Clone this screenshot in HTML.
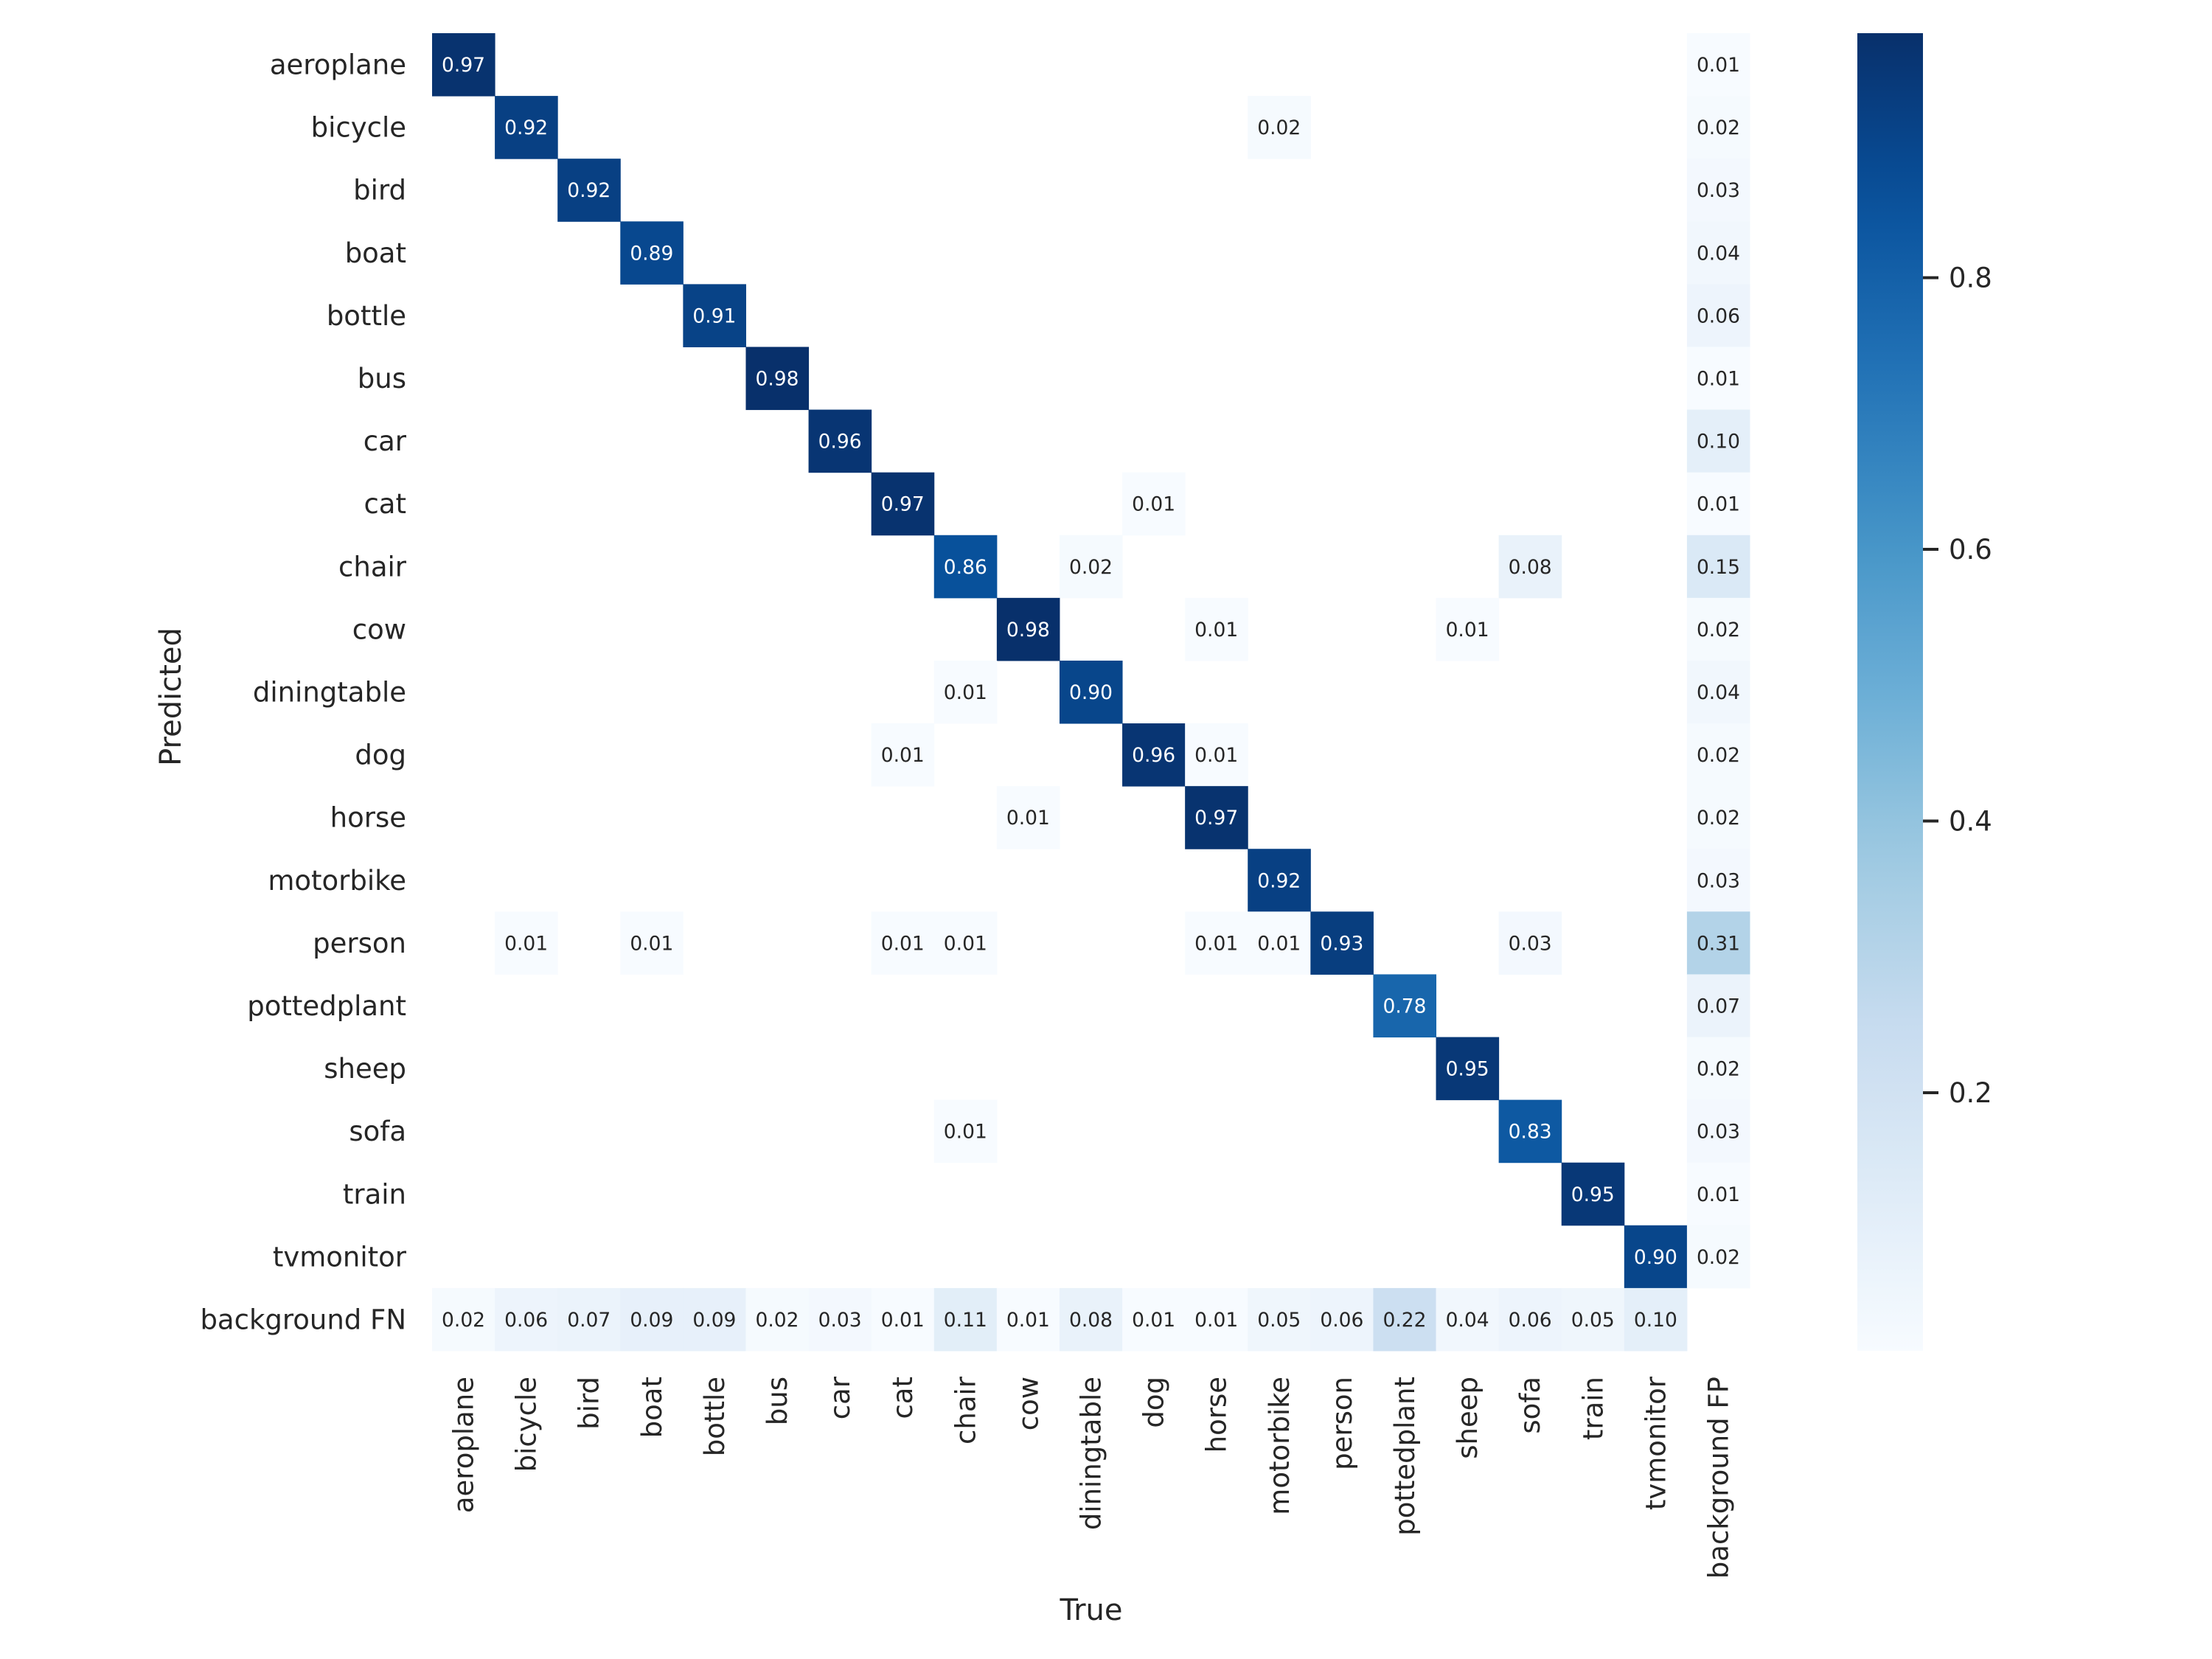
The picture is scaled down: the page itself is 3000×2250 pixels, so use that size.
<!DOCTYPE html>
<html><head><meta charset="utf-8">
<style>
html,body{margin:0;padding:0;background:#fff;}
svg{display:block;font-family:"DejaVu Sans","Liberation Sans",sans-serif;}
</style></head>
<body>
<svg id="chart" xmlns="http://www.w3.org/2000/svg" width="3000" height="2250" viewBox="0 0 3000 2250">
<rect width="3000" height="2250" fill="#fff"/>
<g id="cells"></g>
<g id="annots"></g>
<g id="ylabels"></g>
<g id="xlabels"></g>
<defs><linearGradient id="cbgrad" x1="0" y1="1" x2="0" y2="0"></linearGradient></defs>
<rect id="cbar" x="2519" y="45" width="89" height="1787" fill="url(#cbgrad)"/>
<g id="cbticks"></g>
<text x="1480" y="2197" font-size="40" fill="#262626" text-anchor="middle">True</text>
<text transform="translate(245,945) rotate(-90)" font-size="40" fill="#262626" text-anchor="middle">Predicted</text>
</svg>
<script>
const categories = ["aeroplane","bicycle","bird","boat","bottle","bus","car","cat","chair","cow","diningtable","dog","horse","motorbike","person","pottedplant","sheep","sofa","train","tvmonitor"];
const diagValues = [0.97,0.92,0.92,0.89,0.91,0.98,0.96,0.97,0.86,0.98,0.90,0.96,0.97,0.92,0.93,0.78,0.95,0.83,0.95,0.90];
const backgroundFP = [0.01,0.02,0.03,0.04,0.06,0.01,0.10,0.01,0.15,0.02,0.04,0.02,0.02,0.03,0.31,0.07,0.02,0.03,0.01,0.02];
const backgroundFN = [0.02,0.06,0.07,0.09,0.09,0.02,0.03,0.01,0.11,0.01,0.08,0.01,0.01,0.05,0.06,0.22,0.04,0.06,0.05,0.10];
const offDiagRows = [1,7,8,8,9,9,10,11,11,12,14,14,14,14,14,14,14,17];
const offDiagCols = [13,11,10,17,12,16,8,7,12,9,1,3,7,8,12,13,17,8];
const offDiagVals = [0.02,0.01,0.02,0.08,0.01,0.01,0.01,0.01,0.01,0.01,0.01,0.01,0.01,0.01,0.01,0.01,0.03,0.01];
const colorbarTicks = [0.2,0.4,0.6,0.8];

const NS = "http://www.w3.org/2000/svg";
const X0 = 586, Y0 = 45, GRID = 1787;
const labels = categories.concat(["background"]);
const xLabels = categories.concat(["background FP"]);
const yLabels = categories.concat(["background FN"]);
const N = labels.length;
const cell = GRID / N;
const vmin = 0.01, vmax = 0.98;
const stops = ["#f7fbff","#deebf7","#c6dbef","#9ecae1","#6baed6","#4292c6","#2171b5","#08519c","#08306b"];
function hex(h){return [1,3,5].map(i=>parseInt(h.substr(i,2),16));}
function blues(v){
  let t = Math.max(0, Math.min(1, (v - vmin) / (vmax - vmin)));
  const p = t * (stops.length - 1), i = Math.min(Math.floor(p), stops.length - 2), f = p - i;
  const a = hex(stops[i]), b = hex(stops[i+1]);
  return "rgb(" + a.map((c,k)=>Math.round(c + (b[k]-c)*f)).join(",") + ")";
}
function xPos(c){return X0 + c * cell;}
function yPos(r){return Y0 + r * cell;}
function cbY(v){return Y0 + GRID * (1 - (v - vmin) / (vmax - vmin));}

const M = [];
for (let r = 0; r < N; r++){ M.push(new Array(N).fill(null)); }
diagValues.forEach((v,i)=>{ M[i][i] = v; });
backgroundFP.forEach((v,i)=>{ M[i][N-1] = v; });
backgroundFN.forEach((v,i)=>{ M[N-1][i] = v; });
offDiagVals.forEach((v,k)=>{ M[offDiagRows[k]][offDiagCols[k]] = v; });

const cellsG = document.getElementById("cells");
const annG = document.getElementById("annots");
for (let r = 0; r < N; r++){
  for (let c = 0; c < N; c++){
    const v = M[r][c];
    if (v === null) continue;
    const rect = document.createElementNS(NS, "rect");
    rect.setAttribute("x", xPos(c)); rect.setAttribute("y", yPos(r));
    rect.setAttribute("width", cell + 0.5); rect.setAttribute("height", cell + 0.5);
    rect.setAttribute("fill", blues(v));
    
    
    cellsG.appendChild(rect);
    const t = document.createElementNS(NS, "text");
    t.setAttribute("x", xPos(c) + cell/2); t.setAttribute("y", yPos(r) + cell/2 + 9.5);
    t.setAttribute("text-anchor", "middle"); t.setAttribute("font-size", "26.5");
    t.setAttribute("fill", v > 0.5 ? "#ffffff" : "#262626");
    t.textContent = v.toFixed(2);
    
    
    annG.appendChild(t);
  }
}
const yG = document.getElementById("ylabels");
yLabels.forEach((lab, r)=>{
  const t = document.createElementNS(NS, "text");
  t.setAttribute("x", 551); t.setAttribute("y", yPos(r) + cell/2 + 13);
  t.setAttribute("text-anchor", "end"); t.setAttribute("font-size", "37"); t.setAttribute("fill", "#262626");
  t.textContent = lab;
  
  
  yG.appendChild(t);
});
const xG = document.getElementById("xlabels");
xLabels.forEach((lab, c)=>{
  const t = document.createElementNS(NS, "text");
  const cx = xPos(c) + cell/2 + 13;
  t.setAttribute("transform", "translate(" + cx + ",1867) rotate(-90)");
  t.setAttribute("text-anchor", "end"); t.setAttribute("font-size", "37"); t.setAttribute("fill", "#262626");
  t.textContent = lab;
  
  
  xG.appendChild(t);
});
const grad = document.getElementById("cbgrad");
for (let i = 0; i <= 20; i++){
  const s = document.createElementNS(NS, "stop");
  s.setAttribute("offset", (i/20));
  s.setAttribute("stop-color", blues(vmin + (vmax - vmin) * i / 20));
  grad.appendChild(s);
}
const cbG = document.getElementById("cbticks");
colorbarTicks.forEach(v=>{
  const y = cbY(v);
  const l = document.createElementNS(NS, "line");
  l.setAttribute("x1", 2608); l.setAttribute("x2", 2629); l.setAttribute("y1", y); l.setAttribute("y2", y);
  l.setAttribute("stroke", "#262626"); l.setAttribute("stroke-width", "4");
  
  
  cbG.appendChild(l);
  const t = document.createElementNS(NS, "text");
  t.setAttribute("x", 2643); t.setAttribute("y", y + 13);
  t.setAttribute("font-size", "37"); t.setAttribute("fill", "#262626");
  t.textContent = v.toFixed(1);
  
  
  cbG.appendChild(t);
});
</script>
</body></html>
